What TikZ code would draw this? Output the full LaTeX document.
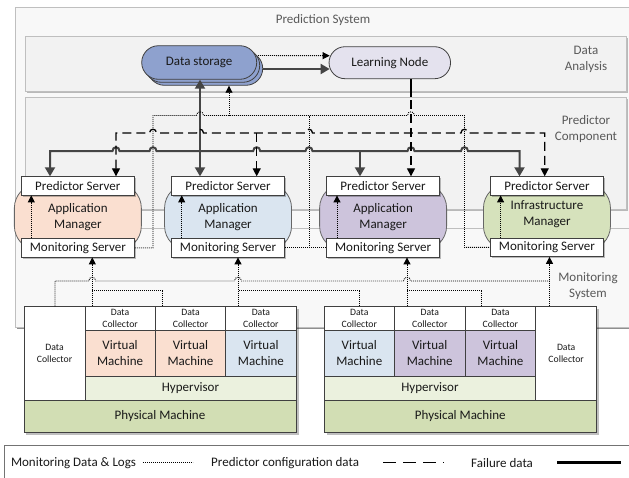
\documentclass[tikz,border=0pt]{standalone}
\usepackage{fontspec}
\setmainfont{Carlito}
\usetikzlibrary{arrows.meta,shadows,calc}

\definecolor{rimgray}{HTML}{BFBFBF}
\definecolor{outerfill}{HTML}{F8F8F8}
\definecolor{layerfill}{HTML}{F2F2F2}
\definecolor{labelgray}{HTML}{595959}
\definecolor{ink}{HTML}{404040}
\definecolor{storage}{HTML}{8EA1CE}
\definecolor{learn}{HTML}{E4E2EE}
\definecolor{peach}{HTML}{FADFD0}
\definecolor{skyblue}{HTML}{DAE5F0}
\definecolor{lilac}{HTML}{CDC4DC}
\definecolor{olive}{HTML}{D6E2BC}
\definecolor{hyper}{HTML}{EBF1DE}
\definecolor{phys}{HTML}{D2DEB4}
\definecolor{wire}{HTML}{454545}

\begin{document}
\begin{tikzpicture}[x=1pt,y=-1pt,
  font=\fontsize{13}{16}\selectfont, text=black!90,
  softshadow/.style={drop shadow={shadow xshift=1.5pt,shadow yshift=-1.5pt,opacity=0.25,fill=black}},
  panel/.style={draw=rimgray, line width=0.8pt, softshadow},
  lbl/.style={text=labelgray, inner sep=0pt, align=center},
  srv/.style={draw=ink, fill=white, line width=0.8pt, minimum width=113pt,
    minimum height=18.3pt, inner sep=0pt, softshadow},
  mgr/.style={draw=ink!80, line width=0.8pt, rounded corners=24pt,
    minimum width=127pt, minimum height=66pt, inner sep=0pt, align=center},
  store/.style={draw=ink, fill=storage, line width=0.8pt, rounded corners=16.8pt,
    minimum width=115pt, minimum height=33.6pt, inner sep=0pt},
  cell/.style={draw=ink, line width=0.8pt, inner sep=0pt, align=center},
  tiny/.style={font=\fontsize{9.7}{12}\selectfont},
  collector/.style={cell, fill=white, tiny, minimum width=70.4pt, minimum height=23.3pt},
  vm/.style={cell, minimum width=70.4pt, minimum height=46.7pt},
  fail/.style={draw=wire, line width=2pt, >={Triangle[length=9pt,width=10pt]}},
  cfg/.style={line width=1.3pt, dash pattern=on 9pt off 5pt, >={Triangle[length=8pt,width=8pt]}},
  mon/.style={draw=black, line width=0.9pt, dash pattern=on 0.9pt off 1.1pt, >={Triangle[length=7pt,width=7pt]}},
  jump/.style args={#1/#2}{insert path={-- (#1-3.5,#2) .. controls (#1-3.5,#2-5) and (#1+3.5,#2-5) .. (#1+3.5,#2)}}
]
\useasboundingbox (0,0) rectangle (629,477);
\clip (0,0) rectangle (629,477);
\fill[white] (0,0) rectangle (629,477);

% ---------- layers of the prediction system ----------
\draw[panel, fill=outerfill] (15,7.5) rectangle (645,327);
\draw[panel, fill=layerfill] (25,36) rectangle (626.5,91);
\draw[panel, fill=layerfill] (25,97) rectangle (626.5,209);
\draw[panel, fill=outerfill] (15,228) rectangle (645,327);

\node[lbl] (tPS) at (323,20.5) {Prediction System};
\node[lbl] (tDA) at (586,59) {Data\\Analysis};
\node[lbl] (tPC) at (586,128.7) {Predictor\\Component};
\node[lbl] (tMS) at (588,286) {Monitoring\\System};

% ---------- data analysis ----------
\node[store] (DS3) at (205.2,68.5) {};
\node[store] (DS2) at (202.2,65.5) {};
\node[store] (DS) at (199.2,62.5) {Data storage};
\node[draw=ink, fill=learn, line width=0.8pt, rounded corners=16pt,
      minimum width=121.5pt, minimum height=32pt, inner sep=0pt] (LN) at (389.8,62.7) {Learning Node};

% ---------- managers with their servers ----------
\node[mgr, fill=peach]   (AM1) at (77.85,217) {Application\\Manager};
\node[mgr, fill=skyblue] (AM2) at (228.05,217) {Application\\Manager};
\node[mgr, fill=lilac]   (AM3) at (383.1,217) {Application\\Manager};
\node[mgr, fill=olive]   (IM)  at (546.95,217) {};
\node[align=center, inner sep=0pt] (IMt) at (546.95,213.7) {Infrastructure\\Manager};

\node[srv] (PS1) at (77.85,185.85) {Predictor Server};
\node[srv] (PS2) at (228.05,185.85) {Predictor Server};
\node[srv] (PS3) at (383.1,185.85) {Predictor Server};
\node[srv] (PS4) at (546.95,185.85) {Predictor Server};
\node[srv] (MS1) at (77.85,247.85) {Monitoring Server};
\node[srv] (MS2) at (228.05,247.85) {Monitoring Server};
\node[srv] (MS3) at (383.1,247.85) {Monitoring Server};
\node[srv] (MS4) at (546.95,247.3) {Monitoring Server};

% ---------- physical machines ----------
\fill[black, opacity=0.25] (26,309) rectangle (298.5,435);
\fill[black, opacity=0.25] (326.5,309) rectangle (599,435);

\node[cell, fill=white, tiny, minimum width=61pt, minimum height=93.3pt] (DCL) at (54.5,353.35) {Data\\Collector};
\node[collector] (C1) at (120.1,318.35) {Data\\Collector};
\node[collector] (C2) at (190.5,318.35) {Data\\Collector};
\node[collector] (C3) at (260.9,318.35) {Data\\Collector};
\node[vm, fill=peach]   (VM1) at (120.1,353.35) {Virtual\\Machine};
\node[vm, fill=peach]   (VM2) at (190.5,353.35) {Virtual\\Machine};
\node[vm, fill=skyblue] (VM3) at (260.9,353.35) {Virtual\\Machine};
\node[cell, fill=hyper, minimum width=211pt, minimum height=23.3pt] (HV1) at (190.5,388.35) {Hypervisor};
\node[cell, fill=phys, minimum width=272pt, minimum height=32.7pt] (PM1) at (160,416.35) {Physical Machine};

\node[collector] (C4) at (359.3,318.35) {Data\\Collector};
\node[collector] (C5) at (429.75,318.35) {Data\\Collector};
\node[collector] (C6) at (500.4,318.35) {Data\\Collector};
\node[vm, fill=skyblue] (VM4) at (359.3,353.35) {Virtual\\Machine};
\node[vm, fill=lilac]   (VM5) at (429.75,353.35) {Virtual\\Machine};
\node[vm, fill=lilac]   (VM6) at (500.4,353.35) {Virtual\\Machine};
\node[cell, fill=hyper, minimum width=211.7pt, minimum height=23.3pt] (HV2) at (429.95,388.35) {Hypervisor};
\node[cell, fill=white, tiny, minimum width=60.7pt, minimum height=93.3pt] (DCR) at (566.15,353.35) {Data\\Collector};
\node[cell, fill=phys, minimum width=272.4pt, minimum height=32.7pt] (PM2) at (460.3,416.35) {Physical Machine};

% ---------- data storage to learning node ----------
\draw[mon,->] ($(DS.east)+(1,-7)$) -- ($(LN.west)+(1,-7)$);
\draw[fail,->] ($(DS3.east)+(0,0.5)$) -- ($(LN.west)+(1,6.3)$);

% ---------- failure data ----------
\draw[fail,<->] (200,0 |- DS.south) -- (200,0 |- PS2.north);
\draw[fail,<->] (50,0 |- PS1.north) -- (50,151) [jump=116/151] [jump=153/151]
  [jump=256.7/151] [jump=309/151] [jump=411/151] [jump=464.5/151]
  -- (519.5,151) -- (519.5,0 |- PS4.north);
\draw[fail,->] (360,151) -- (360,0 |- PS3.north);

% ---------- predictor configuration data ----------
\draw[line width=1.3pt] (411,0 |- LN.south) -- (411,97);
\draw[cfg,->] (411,100) -- (411,0 |- PS3.north);
\draw[cfg,<->] (116,0 |- PS1.north) -- (116,133) [jump=153/133] [jump=200/133]
  [jump=309/133] [jump=464.5/133] -- (544.7,133) -- (544.7,0 |- PS4.north);
\draw[cfg,->] (256.7,133) -- (256.7,0 |- PS2.north);

% ---------- monitoring data towards storage ----------
\draw[mon] (MS1.east) -- (153,0 |- MS1.east) -- (153,115.5) [jump=200/115.5]
  [jump=411/115.5] -- (464.5,115.5) -- (464.5,0 |- MS4.west) -- (MS4.west);
\draw[mon] (MS2.east) -- (MS3.west);
\draw[mon] (309,0 |- MS2.east) -- (309,115.5);
\draw[mon,->] (229,115.5) -- (229,0 |- DS3.south);

% ---------- inside each manager ----------
\draw[mon,->] (31.3,0 |- MS1.north) -- (31.3,0 |- PS1.south);
\draw[mon,->] (181.7,0 |- MS2.north) -- (181.7,0 |- PS2.south);
\draw[mon,->] (337,0 |- MS3.north) -- (337,0 |- PS3.south);
\draw[mon,->] (500.6,0 |- MS4.north) -- (500.6,0 |- PS4.south);

% ---------- collectors to monitoring servers ----------
\draw[mon,->] (92.3,0 |- C1.north) -- (92.3,0 |- MS1.south);
\draw[mon] (162.5,0 |- C2.north) -- (162.5,290) -- (92.3,290);
\draw[mon,->] (238,0 |- C3.north) -- (238,0 |- MS2.south);
\draw[mon] (359.3,0 |- C4.north) -- (359.3,290) -- (238,290);
\draw[mon,->] (407,0 |- C5.north) -- (407,0 |- MS3.south);
\draw[mon] (481.3,0 |- C6.north) -- (481.3,290) -- (407,290);
\draw[mon,->] (549.5,0 |- DCR.north) -- (549.5,0 |- MS4.south);
\draw[mon] (55,0 |- DCL.north) -- (55,281) [jump=92.3/281] [jump=238/281]
  [jump=407/281] -- (549.5,281);

% ---------- legend ----------
\draw[draw=black!55, line width=0.8pt] (4,490) -- (4,445) -- (640,445);
\node[anchor=west, inner sep=0pt] (Lmon) at (10.8,462.7) {Monitoring Data \& Logs};
\node[anchor=west, inner sep=0pt] (Lcfg) at (211,462.7) {Predictor configuration data};
\node[anchor=west, inner sep=0pt] (Lfail) at (471,462.7) {Failure data};
\draw[mon] ([xshift=6.6pt]Lmon.east) -- ++(50,0);
\draw[line width=1.3pt, dash pattern=on 13pt off 7pt] ([xshift=24pt]Lcfg.east) -- ++(61,0);
\draw[line width=2.5pt] ([xshift=24pt]Lfail.east) -- ++(63.5,0);
\end{tikzpicture}
\end{document}
